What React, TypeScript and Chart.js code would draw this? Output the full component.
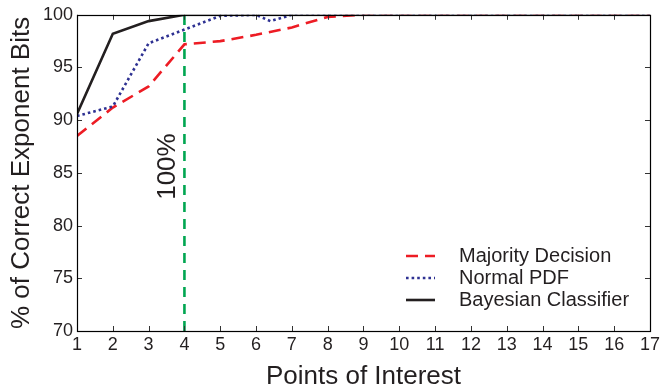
import React, { useEffect, useRef } from "react";
import { Chart, registerables } from "chart.js";

Chart.register(...registerables);

const xTicks = [1, 2, 3, 4, 5, 6, 7, 8, 9, 10, 11, 12, 13, 14, 15, 16, 17];
const yTicks = [70, 75, 80, 85, 90, 95, 100];

const majorityX = [1, 2, 3, 4, 5, 6, 7, 8, 9, 10, 11, 12, 13, 14, 15, 16, 17];
const majorityY = [88.5, 91.2, 93.2, 97.2, 97.5, 98.1, 98.8, 99.8, 100, 100, 100, 100, 100, 100, 100, 100, 100];

const normalX = [1, 2, 3, 4, 5, 6, 6.4, 7, 8, 9, 10, 11, 12, 13, 14, 15, 16, 17];
const normalY = [90.4, 91.3, 97.3, 98.6, 99.9, 100, 99.4, 100, 100, 100, 100, 100, 100, 100, 100, 100, 100, 100];

const bayesX = [1, 2, 3, 4, 5, 6, 7, 8, 9, 10, 11, 12, 13, 14, 15, 16, 17];
const bayesY = [90.6, 98.2, 99.4, 100, 100, 100, 100, 100, 100, 100, 100, 100, 100, 100, 100, 100, 100];

const markerX = [4, 4];
const markerY = [70, 100];
const markerLabel = "100%";
const markerLabelY = 85.6;

const legendLabels = ["Majority Decision", "Normal PDF", "Bayesian Classifier"];
const xTitle = "Points of Interest";
const yTitle = "% of Correct Exponent Bits";

const FONT = "'Liberation Sans', Arial, Helvetica, sans-serif";

const zip = (xs: number[], ys: number[]) => xs.map((x, i) => ({ x, y: ys[i] }));

const framePlugin = {
  id: "frame",
  afterDraw(chart: any) {
    const { ctx, chartArea } = chart;
    const { left, right, top, bottom } = chartArea;
    const xs = chart.scales.x;
    const ys = chart.scales.y;
    ctx.save();
    // marker label
    const mx = xs.getPixelForValue(markerX[0]);
    ctx.save();
    ctx.translate(mx - 17, ys.getPixelForValue(markerLabelY));
    ctx.rotate(-Math.PI / 2);
    ctx.font = `26px ${FONT}`;
    ctx.fillStyle = "#231f20";
    ctx.textAlign = "center";
    ctx.textBaseline = "middle";
    ctx.fillText(markerLabel, 0, 0);
    ctx.restore();

    // ticks inward
    ctx.strokeStyle = "#333";
    ctx.lineWidth = 1;
    const tl = 5;
    ctx.beginPath();
    for (const v of xTicks) {
      const px = Math.round(xs.getPixelForValue(v)) + 0.5;
      ctx.moveTo(px, bottom);
      ctx.lineTo(px, bottom - tl);
      ctx.moveTo(px, top);
      ctx.lineTo(px, top + tl);
    }
    for (const v of yTicks) {
      const py = Math.round(ys.getPixelForValue(v)) + 0.5;
      ctx.moveTo(left, py);
      ctx.lineTo(left + tl, py);
      ctx.moveTo(right, py);
      ctx.lineTo(right - tl, py);
    }
    ctx.stroke();

    // box
    ctx.strokeStyle = "#000";
    ctx.lineWidth = 1.2;
    ctx.strokeRect(Math.round(left) + 0.5, Math.round(top) + 0.5, Math.round(right - left), Math.round(bottom - top));

    // legend
    const ds = chart.data.datasets;
    const lx0 = 406;
    const lx1 = 435;
    const tx = 459;
    const rows = [256, 278, 300];
    ctx.font = `20px ${FONT}`;
    ctx.textAlign = "left";
    ctx.textBaseline = "middle";
    for (let i = 0; i < 3; i++) {
      const d = ds[i];
      ctx.save();
      ctx.strokeStyle = d.borderColor;
      ctx.lineWidth = d.borderWidth;
      ctx.setLineDash(d.borderDash || []);
      ctx.beginPath();
      ctx.moveTo(lx0, rows[i]);
      ctx.lineTo(lx1, rows[i]);
      ctx.stroke();
      ctx.restore();
      ctx.fillStyle = "#231f20";
      ctx.fillText(legendLabels[i], tx, rows[i]);
    }
    ctx.restore();
  },
};

export default function App() {
  const ref = useRef<HTMLCanvasElement | null>(null);
  useEffect(() => {
    if (!ref.current) return;
    const chart = new Chart(ref.current, {
      type: "line",
      data: {
        datasets: [
          {
            label: legendLabels[0],
            data: zip(majorityX, majorityY),
            borderColor: "#ed1c24",
            borderWidth: 2.6,
            borderDash: [12, 7],
            pointRadius: 0,
            fill: false,
            order: 3,
          },
          {
            label: legendLabels[1],
            data: zip(normalX, normalY),
            borderColor: "#2e3192",
            borderWidth: 2.6,
            borderDash: [2.6, 3],
            pointRadius: 0,
            fill: false,
            order: 2,
          },
          {
            label: legendLabels[2],
            data: zip(bayesX, bayesY),
            borderColor: "#231f20",
            borderWidth: 2.6,
            pointRadius: 0,
            fill: false,
            order: 1,
          },
          {
            label: markerLabel,
            data: zip(markerX, markerY),
            borderColor: "#00a651",
            borderWidth: 2.6,
            borderDash: [10, 7],
            pointRadius: 0,
            fill: false,
            order: 4,
          },
        ],
      },
      options: {
        animation: false,
        responsive: false,
        devicePixelRatio: 1,
        layout: { padding: { left: 0, top: 13, right: 11, bottom: 0 }, autoPadding: false } as any,
        plugins: { legend: { display: false }, tooltip: { enabled: false } },
        scales: {
          x: {
            type: "linear",
            min: 1,
            max: 17,
            afterBuildTicks: (s: any) => {
              s.ticks = xTicks.map((v) => ({ value: v }));
            },
            grid: { display: false, drawTicks: false },
            border: { display: false },
            ticks: { font: { family: FONT, size: 18 }, color: "#231f20", padding: 3, maxRotation: 0, autoSkip: false },
            title: {
              display: true,
              text: xTitle,
              font: { family: FONT, size: 26, lineHeight: 1 },
              color: "#231f20",
              padding: { top: 0, bottom: -2 },
            },
            afterFit: (s: any) => {
              s.height = 57;
            },
          },
          y: {
            type: "linear",
            min: 70,
            max: 100,
            afterBuildTicks: (s: any) => {
              s.ticks = yTicks.map((v) => ({ value: v }));
            },
            grid: { display: false, drawTicks: false },
            border: { display: false },
            ticks: { font: { family: FONT, size: 18 }, color: "#231f20", padding: 4, autoSkip: false },
            title: {
              display: true,
              text: yTitle,
              font: { family: FONT, size: 26, lineHeight: 1 },
              color: "#231f20",
              padding: { top: 9, bottom: 0 },
            },
            afterFit: (s: any) => {
              s.width = 77;
            },
          },
        },
      },
      plugins: [framePlugin],
    });
    return () => chart.destroy();
  }, []);
  return (
    <div style={{ position: "fixed", left: 0, top: 0, width: 663, height: 388, background: "#fff" }}>
      <canvas ref={ref} width={663} height={388} style={{ display: "block" }} />
    </div>
  );
}
